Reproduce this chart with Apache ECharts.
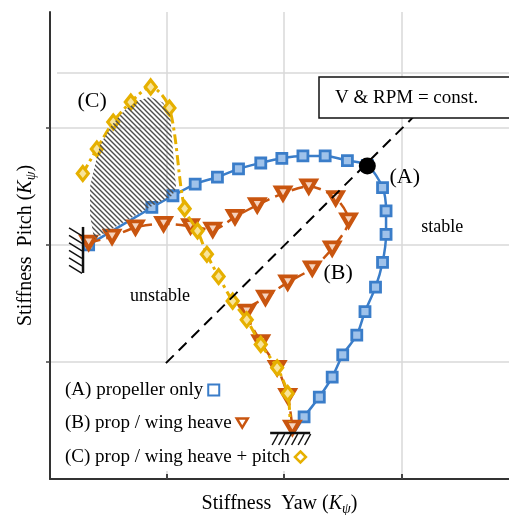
<!DOCTYPE html>
<html>
<head>
<meta charset="utf-8">
<script src="https://cdn.jsdelivr.net/npm/echarts@6/dist/echarts.min.js"></script>
<style>
html, body { margin: 0; padding: 0; background: #fff; }
#chart { width: 509px; height: 515px; }
</style>
</head>
<body>
<div id="chart"></div>
<script>
// (A) propeller only
var propX = [0.33, 0.87, 1.05, 1.24, 1.43, 1.61, 1.80, 1.98, 2.16, 2.35, 2.54, 2.71, 2.84, 2.87, 2.87, 2.84, 2.78, 2.69, 2.62, 2.50, 2.41, 2.30, 2.17, 2.08];
var propY = [2.00, 2.32, 2.42, 2.52, 2.58, 2.65, 2.70, 2.74, 2.76, 2.76, 2.72, 2.68, 2.49, 2.29, 2.09, 1.85, 1.64, 1.43, 1.23, 1.06, 0.87, 0.70, 0.53, 0.39];
// (B) prop / wing heave
var heaveX = [0.33, 0.53, 0.73, 0.97, 1.20, 1.39, 1.58, 1.77, 1.99, 2.21, 2.44, 2.55, 2.41, 2.24, 2.03, 1.84, 1.68, 1.80, 1.94, 2.03, 2.07];
var heaveY = [2.02, 2.07, 2.15, 2.18, 2.16, 2.13, 2.24, 2.34, 2.44, 2.50, 2.40, 2.21, 1.97, 1.80, 1.68, 1.55, 1.43, 1.17, 0.95, 0.71, 0.44];
// (C) prop / wing heave + pitch
var pitchX = [0.28, 0.40, 0.54, 0.69, 0.86, 1.02, 1.15, 1.26, 1.34, 1.44, 1.56, 1.68, 1.80, 1.94, 2.03, 2.05];
var pitchY = [2.61, 2.82, 3.05, 3.22, 3.35, 3.17, 2.31, 2.12, 1.92, 1.73, 1.52, 1.36, 1.15, 0.95, 0.73, 0.49];

// hatched unstable region of (C)
var hatchX = [0.855, 0.966, 1.026, 1.043, 1.060, 1.077, 1.043, 0.872, 0.692, 0.513, 0.376, 0.342, 0.342, 0.385, 0.427, 0.530, 0.641, 0.752];
var hatchY = [3.265, 3.214, 3.111, 2.897, 2.684, 2.487, 2.419, 2.333, 2.231, 2.128, 2.051, 2.256, 2.496, 2.684, 2.855, 3.026, 3.154, 3.231];

// V & RPM = const. line and operating point (A)
var constX = [0.99, 3.10];
var constY = [0.99, 3.09];
var pointA = [2.71, 2.675];

// clamped supports
var anchorX = [0.282, 2.051];
var anchorY = [1.957, 0.393];
var anchorDir = ['wall', 'floor'];

var tagText = ['(A)', '(B)', '(C)'];
var tagX = [3.03, 2.46, 0.36];
var tagY = [2.58, 1.76, 3.23];
var regionText = ['stable', 'unstable'];
var regionX = [3.35, 0.94];
var regionY = [2.15, 1.56];

var tickValues = [1, 2, 3];
var names = ['(A) propeller only', '(B) prop / wing heave', '(C) prop / wing heave + pitch'];

var blue = '#3a7dc9';
var red = '#c9550f';
var yellow = '#e6b000';
var serif = '"Liberation Serif", "Times New Roman", serif';

function zip(xs, ys) {
    return xs.map(function (x, i) { return [x, ys[i]]; });
}

function noLastSymbol(pts) {
    return pts.map(function (p, i) {
        return i === pts.length - 1 ? { value: p, symbol: 'none' } : p;
    });
}

function hatchPattern() {
    var c = document.createElement('canvas');
    c.width = 5; c.height = 5;
    var g = c.getContext('2d');
    g.strokeStyle = '#4d4d4d';
    g.lineWidth = 1.4;
    g.beginPath();
    g.moveTo(-1, -1); g.lineTo(6, 6);
    g.moveTo(-1, 4); g.lineTo(1, 6);
    g.moveTo(4, -1); g.lineTo(6, 1);
    g.stroke();
    return c;
}
var pattern = hatchPattern();

var nameStyle = {
    fontFamily: serif, fontSize: 20, color: '#000', lineHeight: 24,
    rich: {
        k: { fontFamily: serif, fontSize: 20, fontStyle: 'italic', color: '#000', lineHeight: 24 },
        s: { fontFamily: serif, fontSize: 14, fontStyle: 'italic', color: '#000', lineHeight: 13, verticalAlign: 'bottom' }
    }
};

var legendIcons = [
    { icon: 'rect', itemStyle: { color: '#fff', borderColor: blue, borderWidth: 2 } },
    { icon: 'path://M0,0L12,0L6,10Z', itemStyle: { color: '#fff', borderColor: red, borderWidth: 2.5 } },
    { icon: 'diamond', itemStyle: { color: '#fff', borderColor: yellow, borderWidth: 2.5 } }
];
var legendTops = [380, 413, 447];

var chart = echarts.init(document.getElementById('chart'));

chart.setOption({
    animation: false,
    grid: { left: 50, right: 0, top: 12, bottom: 36, containLabel: false, outerBoundsMode: 'none' },
    xAxis: {
        type: 'value', min: 0, max: 3.92, interval: 1,
        name: 'Stiffness  Yaw ({k|K}{s|ψ})', nameLocation: 'middle', nameGap: 13,
        nameTextStyle: nameStyle,
        axisLine: { lineStyle: { color: '#333', width: 2 } },
        axisTick: { show: true, inside: true, length: 5, customValues: tickValues, lineStyle: { color: '#444', width: 2 } },
        axisLabel: { show: false },
        splitLine: { lineStyle: { color: '#d9d9d9', width: 1.5 } }
    },
    yAxis: {
        type: 'value', min: 0, max: 3.99, interval: 1,
        name: 'Stiffness  Pitch ({k|K}{s|ψ})', nameLocation: 'middle', nameRotate: 90, nameGap: 12,
        nameTextStyle: nameStyle,
        axisLine: { lineStyle: { color: '#333', width: 2 } },
        axisTick: { show: true, length: 4, customValues: tickValues, lineStyle: { color: '#444', width: 1.5 } },
        axisLabel: { show: false },
        splitLine: { lineStyle: { color: '#d9d9d9', width: 1.5 } }
    },
    legend: names.map(function (n, i) {
        return {
            left: 65, top: legendTops[i], padding: 0, align: 'right',
            itemWidth: 11, itemHeight: 11,
            textStyle: { fontFamily: serif, fontSize: 19, color: '#000', lineHeight: 20 },
            data: [{ name: n, icon: legendIcons[i].icon, itemStyle: legendIcons[i].itemStyle }]
        };
    }),
    graphic: [
        // legend background hides the grid below it
        { type: 'rect', z: 1, shape: { x: 52, y: 363, width: 280, height: 108 }, style: { fill: '#fff' } },
        { type: 'rect', z: 10, shape: { x: 319, y: 77, width: 200, height: 41 }, style: { fill: '#fff', stroke: '#111', lineWidth: 1.5 } },
        { type: 'text', z: 11, x: 335, y: 98, style: { text: 'V & RPM = const.', fontFamily: serif, fontSize: 19, fill: '#000', verticalAlign: 'middle' } }
    ],
    series: [
        {
            name: names[0], type: 'line', z: 2, smooth: 0.3,
            data: noLastSymbol(zip(propX, propY)),
            symbol: 'rect', symbolSize: 10,
            lineStyle: { color: blue, width: 2.5 },
            itemStyle: { color: '#9fc2ea', borderColor: blue, borderWidth: 2.8 }
        },
        {
            name: names[1], type: 'line', z: 3, smooth: 0.3,
            data: zip(heaveX, heaveY),
            symbol: 'triangle', symbolRotate: 180, symbolSize: [14, 12],
            lineStyle: { color: red, width: 2.5, type: [12, 6] },
            itemStyle: { color: '#f6d3bd', borderColor: red, borderWidth: 4 }
        },
        {
            name: names[2], type: 'line', z: 4, smooth: 0.3,
            data: noLastSymbol(zip(pitchX, pitchY)),
            symbol: 'diamond', symbolSize: [11, 14],
            lineStyle: { color: yellow, width: 3, type: [10, 4, 3, 4] },
            itemStyle: { color: '#f8e49a', borderColor: yellow, borderWidth: 3.2 }
        },
        {
            type: 'custom', z: 5, silent: true,
            data: [[0, 0]],
            renderItem: function (params, api) {
                var pts = hatchX.map(function (x, i) { return api.coord([x, hatchY[i]]); });
                return {
                    type: 'polygon',
                    shape: { points: pts },
                    style: { fill: { image: pattern, repeat: 'repeat' }, stroke: null }
                };
            }
        },
        {
            type: 'line', z: 6, silent: true,
            data: zip(constX, constY),
            symbol: 'none',
            lineStyle: { color: '#000', width: 2, type: [11, 7] },
            markLine: {
                silent: true, symbol: 'none', label: { show: false },
                lineStyle: { color: '#d9d9d9', width: 1.5, type: 'solid' },
                data: [[{ coord: [0.06, 3.47] }, { coord: [3.92, 3.47] }]]
            }
        },
        {
            type: 'scatter', z: 7, silent: true,
            data: [pointA], symbolSize: 17,
            itemStyle: { color: '#000', opacity: 1 }
        },
        {
            type: 'custom', z: 7, silent: true,
            data: zip(anchorX, anchorY),
            renderItem: function (params, api) {
                var p = api.coord([api.value(0), api.value(1)]);
                var thick = { stroke: '#111', lineWidth: 2.5 };
                var thin = { stroke: '#111', lineWidth: 1.5 };
                var kids = [];
                var i;
                if (anchorDir[params.dataIndex] === 'wall') {
                    kids.push({ type: 'line', shape: { x1: p[0], y1: p[1] - 23, x2: p[0], y2: p[1] + 23 }, style: thick });
                    for (i = 0; i < 6; i++) {
                        var y0 = p[1] - 22 + i * 7.5;
                        kids.push({ type: 'line', shape: { x1: p[0] - 14, y1: y0, x2: p[0] - 1, y2: y0 + 8 }, style: thin });
                    }
                } else {
                    kids.push({ type: 'line', shape: { x1: p[0] - 20, y1: p[1], x2: p[0] + 20, y2: p[1] }, style: thick });
                    for (i = 0; i < 6; i++) {
                        var x0 = p[0] - 18 + i * 6.5;
                        kids.push({ type: 'line', shape: { x1: x0, y1: p[1] + 12, x2: x0 + 6, y2: p[1] + 1 }, style: thin });
                    }
                }
                return { type: 'group', children: kids };
            }
        },
        {
            type: 'scatter', z: 8, silent: true, symbolSize: 0,
            itemStyle: { opacity: 1 },
            data: zip(tagX, tagY).map(function (v, i) { return { value: v, name: tagText[i] }; }),
            label: { show: true, position: 'inside', formatter: '{b}', fontFamily: serif, fontSize: 22, color: '#000' }
        },
        {
            type: 'scatter', z: 8, silent: true, symbolSize: 0,
            itemStyle: { opacity: 1 },
            data: zip(regionX, regionY).map(function (v, i) { return { value: v, name: regionText[i] }; }),
            label: { show: true, position: 'inside', formatter: '{b}', fontFamily: serif, fontSize: 18, color: '#000' }
        }
    ]
});
</script>
</body>
</html>
